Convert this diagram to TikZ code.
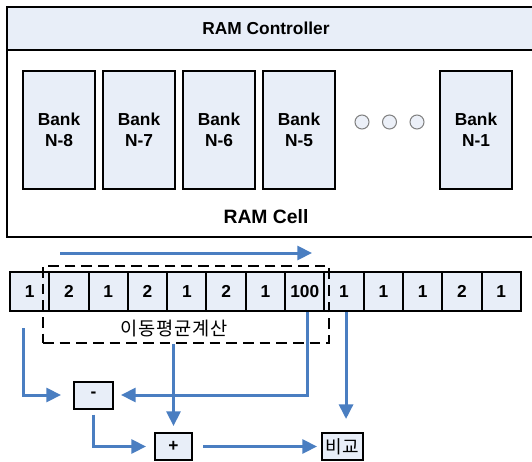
\documentclass[tikz,border=0pt]{standalone}
\usepackage{fontspec}
\setmainfont{Liberation Sans}
\newfontfamily\korfont{Noto Sans CJK KR}
\newfontfamily\korwide[LetterSpace=5]{Noto Sans CJK KR}
\usetikzlibrary{arrows.meta}

\tikzset{every picture/.style={line width=0.75pt}}
\tikzset{
  box/.style={draw={rgb, 255:red, 0; green, 0; blue, 0 }, fill={rgb, 255:red, 232; green, 238; blue, 248 }, line width=1.5pt, inner sep=0pt, font=\fontsize{13}{15.75}\selectfont\bfseries},
  bank/.style={box, minimum width=54pt, minimum height=88.5pt, align=center},
  cell/.style={box, minimum width=29.5pt, minimum height=29.25pt},
  opbox/.style={box, minimum height=20.25pt},
  flow/.style={draw={rgb, 255:red, 74; green, 126; blue, 193 }, line width=2.25pt, -{Triangle[length=11pt,width=10.5pt]}},
  kortext/.style={font=\korfont\fontsize{13.5}{16}\selectfont},
}

\begin{document}
\begin{tikzpicture}[x=0.75pt,y=0.75pt,yscale=-1,xscale=1]
		\useasboundingbox (0,0) rectangle (532,461);
		\clip (0,0) rectangle (532,461);
		
		%Shape: Rectangle [outer RAM box]
		\draw [line width=1.5pt, fill={rgb, 255:red, 255; green, 255; blue, 255 }] (7,7) -- (545,7) -- (545,237) -- (7,237) -- cycle ;
		%Shape: Rectangle [controller bar]
		\draw [line width=1.5pt, fill={rgb, 255:red, 232; green, 238; blue, 248 }] (7,7) -- (545,7) -- (545,50) -- (7,50) -- cycle ;
		
		\draw (266,28.5) node (ctrl) [font=\fontsize{13}{15}\selectfont\bfseries] {RAM Controller};
		\draw (266,217) node (cellname) [font=\fontsize{14.5}{17}\selectfont\bfseries] {RAM Cell};
		
		%Banks
		\draw (59,130) node (b8) [bank] {Bank\\N-8};
		\draw (139,130) node (b7) [bank] {Bank\\N-7};
		\draw (219,130) node (b6) [bank] {Bank\\N-6};
		\draw (299,130) node (b5) [bank] {Bank\\N-5};
		\draw (476,130) node (b1) [bank] {Bank\\N-1};
		
		%Shape: Circle (dots)
		\foreach \cx in {362,389.5,417}
			\draw [draw={rgb, 255:red, 128; green, 128; blue, 128 }, fill={rgb, 255:red, 236; green, 240; blue, 248 }] (\cx,122) circle (7) ;
		
		%Data cells
		\foreach \v [count=\i] in {1,2,1,2,1,2,1,100,1,1,1,2,1}
			\draw ({10+39.3*\i-19.65},291.5) node (c\i) [cell] {\v};
		
		%Shape: Rectangle [moving window]
		\draw (186,304.5) node (win) [draw, line width=1.5pt, dash pattern=on 8pt off 4.5pt, minimum width=214.5pt, minimum height=57.75pt] {};
		\draw (174,329) node (winlabel) [font=\korwide\fontsize{14}{16}\selectfont] {이동평균계산};
		
		%Operators
		\draw (93.5,395) node (minus) [opbox, minimum width=29.25pt] {-};
		\draw (173.5,446.5) node (plus) [opbox, minimum width=27.75pt] {+};
		\draw (342.5,446.5) node (cmp) [opbox, minimum width=30.75pt, kortext] {비교};
		
		\coordinate (t0) at (60,253);
		\coordinate (t1) at (312,253);
		\coordinate (s1) at (23,328);
		
		\draw [flow] (t0) -- (t1) ;
		\draw [flow, shorten >=9pt] (s1) |- (minus.west) ;
		\draw [flow, shorten >=5.25pt] ([xshift=1.7pt]c8.south) |- (minus.east) ;
		\draw [flow, shorten >=4.5pt] (win.south -| plus.north) -- (plus.north) ;
		\draw [flow, shorten <=3.75pt, shorten >=6pt] (minus.south) |- (plus.west) ;
		\draw [flow, shorten <=7.5pt, shorten >=3pt] (plus) -- (cmp) ;
		\draw [flow, shorten >=9.75pt] ([xshift=1.5pt]c9.south) -- ([xshift=1.5pt]c9.south |- cmp.north) ;
		
	\end{tikzpicture}
\end{document}
